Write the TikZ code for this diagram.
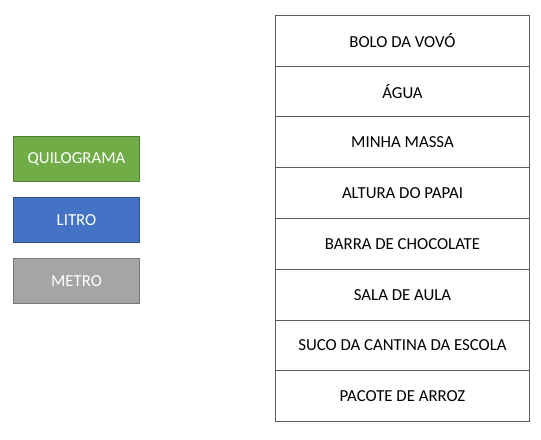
\documentclass[tikz,border=0pt]{standalone}
\usepackage{fontspec}
\setmainfont{Carlito}
\definecolor{kgfill}{HTML}{70AD47}
\definecolor{kgline}{HTML}{507E32}
\definecolor{lfill}{HTML}{4472C4}
\definecolor{lline}{HTML}{2F528F}
\definecolor{mfill}{HTML}{A5A5A5}
\definecolor{mline}{HTML}{787878}
\definecolor{tline}{HTML}{5A5A5A}
\tikzset{
  unitbox/.style={minimum width=125bp, minimum height=45bp, inner sep=0pt, line width=1bp, text=white, font=\fontsize{16.8bp}{19bp}\selectfont},
  rowbox/.style={draw=tline, line width=1bp, minimum width=253.6bp, minimum height=50.8bp, inner sep=0pt, font=\fontsize{16.8bp}{19bp}\selectfont}
}
\begin{document}
\begin{tikzpicture}[x=1bp,y=-1bp]
\useasboundingbox (0,0) rectangle (541,440);
\node[unitbox, draw=kgline, fill=kgfill] (kg) at (76.5,158.7) {QUILOGRAMA};
\node[unitbox, draw=lline, fill=lfill] (l) at (76.5,220) {LITRO};
\node[unitbox, draw=mline, fill=mfill] (m) at (76.5,280.8) {METRO};
\node[rowbox] (r1) at (402.5,40.7) {BOLO DA VOVÓ};
\node[rowbox] (r2) at (402.5,91.5) {ÁGUA};
\node[rowbox] (r3) at (402.5,142.3) {MINHA MASSA};
\node[rowbox] (r4) at (402.5,193.1) {ALTURA DO PAPAI};
\node[rowbox] (r5) at (402.5,243.9) {BARRA DE CHOCOLATE};
\node[rowbox] (r6) at (402.5,294.7) {SALA DE AULA};
\node[rowbox] (r7) at (402.5,345.5) {SUCO DA CANTINA DA ESCOLA};
\node[rowbox] (r8) at (402.5,396.3) {PACOTE DE ARROZ};
\end{tikzpicture}
\end{document}
